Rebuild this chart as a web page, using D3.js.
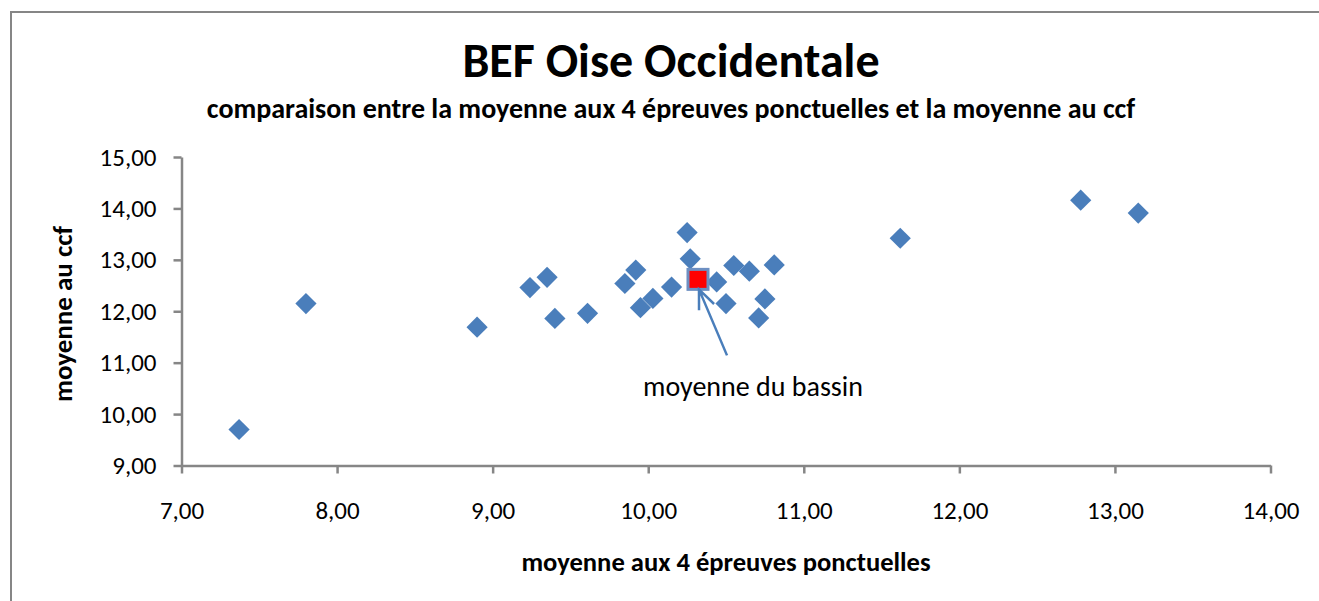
<!DOCTYPE html>
<html>
<head>
<meta charset="utf-8">
<script src="https://cdn.jsdelivr.net/npm/d3@7"></script>
<style>
  body { margin: 0; background: #fff; }
  svg { display: block; }
</style>
</head>
<body>
<script>
// établissements : moyenne aux 4 épreuves ponctuelles (x) / moyenne au ccf (y)
const ponctuelles = [7.37, 7.80, 8.90, 9.24, 9.35, 9.40, 9.61, 9.85, 9.92, 9.95, 10.03, 10.15,
  10.25, 10.27, 10.44, 10.50, 10.55, 10.65, 10.71, 10.75, 10.81, 11.62, 12.78, 13.15];
const ccf = [9.70, 12.15, 11.69, 12.46, 12.66, 11.86, 11.96, 12.54, 12.80, 12.07, 12.25, 12.47,
  13.53, 13.02, 12.57, 12.15, 12.89, 12.78, 11.87, 12.24, 12.90, 13.42, 14.16, 13.91];
const bassin = { x: 10.32, y: 12.62 };

const xTicks = [7, 8, 9, 10, 11, 12, 13, 14];
const yTicks = [9, 10, 11, 12, 13, 14, 15];

const width = 1319;
const height = 601;
const font = 'Calibri, Carlito, Lato, sans-serif';
const blue = '#4a7ebb';
const axisGrey = '#868686';

const fmt = v => v.toFixed(2).replace('.', ',');

const svg = d3.select('body')
  .append('svg')
  .attr('width', width)
  .attr('height', height)
  .style('font-family', font);

// cadre du graphique
svg.append('rect')
  .attr('x', 11)
  .attr('y', 12)
  .attr('width', 1400)
  .attr('height', 700)
  .attr('fill', 'none')
  .attr('stroke', axisGrey)
  .attr('stroke-width', 2);

const x = d3.scaleLinear().domain([7, 14]).range([181.5, 1270.5]);
const y = d3.scaleLinear().domain([9, 15]).range([465.5, 157]);

const xAxis = svg.append('g')
  .attr('transform', `translate(0,${y(9)})`)
  .call(d3.axisBottom(x).tickValues(xTicks).tickFormat(fmt).tickSize(8).tickSizeOuter(0).tickPadding(28));

const yAxis = svg.append('g')
  .attr('transform', `translate(${x(7)},0)`)
  .call(d3.axisLeft(y).tickValues(yTicks).tickFormat(fmt).tickSize(8).tickSizeOuter(0).tickPadding(17));

[xAxis, yAxis].forEach(a => {
  a.select('.domain').attr('stroke', axisGrey).attr('stroke-width', 2.5);
  a.selectAll('.tick line').attr('stroke', axisGrey).attr('stroke-width', 2.5);
  a.selectAll('.tick text')
    .attr('fill', '#000')
    .style('font-family', font)
    .style('font-size', '25px');
});

// points
const diamond = d3.symbol().type(d3.symbolSquare).size(15 * 15);
svg.append('g')
  .selectAll('path')
  .data(d3.zip(ponctuelles, ccf))
  .join('path')
    .attr('d', diamond)
    .attr('transform', d => `translate(${x(d[0])},${y(d[1])}) rotate(45)`)
    .attr('fill', blue);

// moyenne du bassin
svg.append('rect')
  .attr('x', x(bassin.x) - 10)
  .attr('y', y(bassin.y) - 10)
  .attr('width', 20)
  .attr('height', 20)
  .attr('fill', '#ff0000')
  .attr('stroke', '#6d8fc2')
  .attr('stroke-width', 3);

// flèche
const tip = [x(bassin.x) + 1, y(bassin.y) + 10];
const tail = [x(bassin.x) + 29, y(bassin.y) + 76];
const ang = Math.atan2(tail[1] - tip[1], tail[0] - tip[0]);
const wing = 21;
svg.append('path')
  .attr('d', `M${tail}L${tip}` +
    `M${tip[0] + wing * Math.cos(ang - 0.4)},${tip[1] + wing * Math.sin(ang - 0.4)}L${tip}` +
    `L${tip[0] + wing * Math.cos(ang + 0.4)},${tip[1] + wing * Math.sin(ang + 0.4)}`)
  .attr('fill', 'none')
  .attr('stroke', blue)
  .attr('stroke-width', 2.5);

svg.append('text')
  .attr('x', 753)
  .attr('y', 396)
  .attr('text-anchor', 'middle')
  .style('font-size', '28px')
  .text('moyenne du bassin');

// titres
svg.append('text')
  .attr('x', 671)
  .attr('y', 77)
  .attr('text-anchor', 'middle')
  .style('font-size', '48px')
  .style('font-weight', 'bold')
  .text('BEF Oise Occidentale');

svg.append('text')
  .attr('x', 671)
  .attr('y', 118)
  .attr('text-anchor', 'middle')
  .style('font-size', '28px')
  .style('font-weight', 'bold')
  .text('comparaison entre la moyenne aux 4 épreuves ponctuelles et la moyenne au ccf');

svg.append('text')
  .attr('x', 726)
  .attr('y', 571)
  .attr('text-anchor', 'middle')
  .style('font-size', '26.6px')
  .style('font-weight', 'bold')
  .text('moyenne aux 4 épreuves ponctuelles');

svg.append('text')
  .attr('transform', 'translate(72,314) rotate(-90)')
  .attr('text-anchor', 'middle')
  .style('font-size', '27px')
  .style('font-weight', 'bold')
  .text('moyenne au ccf');
</script>
</body>
</html>
